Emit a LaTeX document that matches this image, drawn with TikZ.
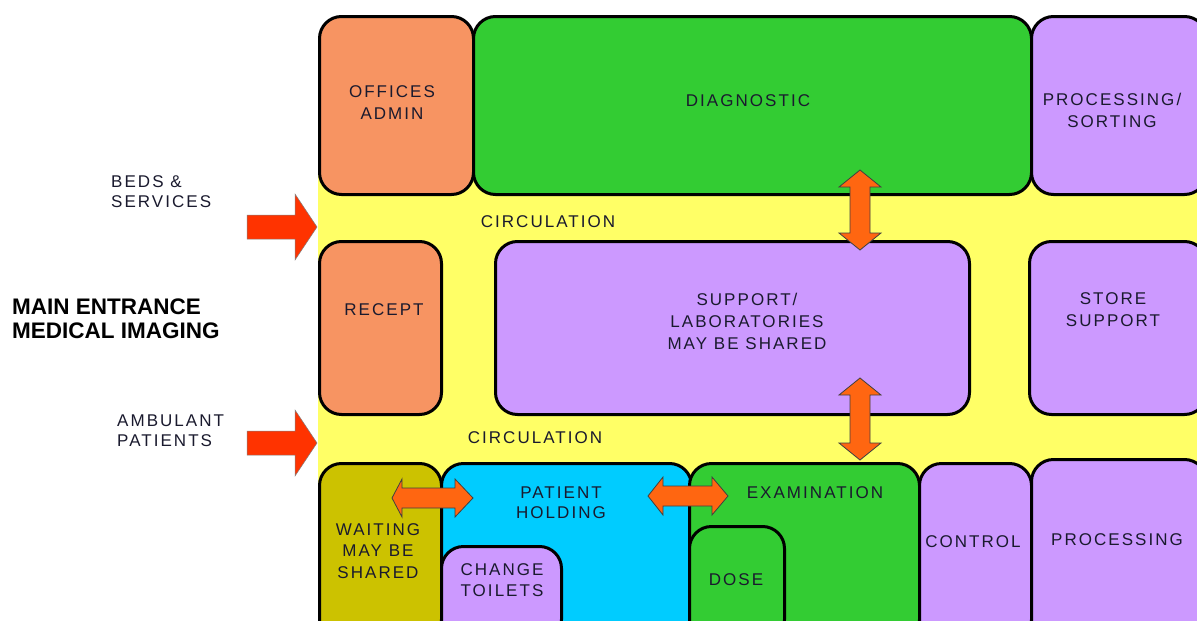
\documentclass[tikz,border=0pt]{standalone}
\usepackage{fontspec}
\setmainfont{Liberation Sans}
\newfontfamily\lbl[LetterSpace=12]{Liberation Sans}
\definecolor{salmon}{HTML}{F79462}
\definecolor{grn}{HTML}{33CC33}
\definecolor{purp}{HTML}{CC99FF}
\definecolor{cyanb}{HTML}{00CCFF}
\definecolor{olive}{HTML}{CCC200}
\definecolor{yel}{HTML}{FFFF66}
\definecolor{redarr}{HTML}{FF3300}
\definecolor{orarr}{HTML}{FF6611}
\definecolor{ink}{HTML}{1A1A2E}
\tikzset{
  box/.style={draw=black, line width=3pt, rounded corners=22pt, inner sep=0pt},
  txt/.style={font=\lbl\fontsize{17}{22}\selectfont, text=ink, align=center, inner sep=0pt},
  ltxt/.style={font=\lbl\fontsize{17}{20}\selectfont, text=ink, align=left, inner sep=0pt, anchor=west},
  btxt/.style={font=\bfseries\fontsize{22.5}{24}\selectfont, text=black, align=left, inner sep=0pt, anchor=west},
  arr/.style={draw=black!75, line width=0.8pt, line join=miter},
}
% \zone{name}{x1}{y1}{x2}{y2}{colour}
\newcommand{\zone}[6]{\node[box, fill=#6, anchor=north west, minimum width={(#4-#2)*1pt}, minimum height={(#5-#3)*1pt}] (#1) at (#2,#3) {};}
% \harr{xl}{xr}{yc}{shaft half}{head half}{left head len}{right head len}
\newcommand{\harr}[7]{\filldraw[arr, fill=orarr] (#1,#3) -- ({#1+#6},{#3-#5}) -- ({#1+#6},{#3-#4}) -- ({#2-#7},{#3-#4}) -- ({#2-#7},{#3-#5}) -- (#2,#3) -- ({#2-#7},{#3+#5}) -- ({#2-#7},{#3+#4}) -- ({#1+#6},{#3+#4}) -- ({#1+#6},{#3+#5}) -- cycle;}
% \varr{xc}{yt}{yb}{shaft half}{head half}{head len}
\newcommand{\varr}[6]{\filldraw[arr, fill=orarr] (#1,#2) -- ({#1+#5},{#2+#6}) -- ({#1+#4},{#2+#6}) -- ({#1+#4},{#3-#6}) -- ({#1+#5},{#3-#6}) -- (#1,#3) -- ({#1-#5},{#3-#6}) -- ({#1-#4},{#3-#6}) -- ({#1-#4},{#2+#6}) -- ({#1-#5},{#2+#6}) -- cycle;}
% \inarr{yc}
\newcommand{\inarr}[1]{\filldraw[arr, fill=redarr, draw=black!50, line width=0.5pt] (247,{#1-12}) -- (295,{#1-12}) -- (295,{#1-33}) -- (317,#1) -- (295,{#1+33}) -- (295,{#1+12}) -- (247,{#1+12}) -- cycle;}
\begin{document}
\begin{tikzpicture}[x=1pt,y=-1pt]
\useasboundingbox (0,0) rectangle (1197,621);
\clip (0,0) rectangle (1197,621);
\fill[white] (0,0) rectangle (1197,621);
\fill[yel] (318,60) rectangle (1197,621);
% top row
\zone{offices}{318}{15}{472}{193}{salmon}
\zone{diag}{472}{15}{1030}{193}{grn}
\zone{procsort}{1030}{15}{1205}{193}{purp}
% middle row
\zone{recept}{318}{240}{440}{413}{salmon}
\zone{support}{494}{240}{968}{413}{purp}
\zone{store}{1028}{240}{1205}{413}{purp}
% bottom row
\zone{waiting}{318}{462}{440}{640}{olive}
\zone{holding}{440}{462}{690}{640}{cyanb}
\zone{change}{440}{545}{560}{640}{purp}
\zone{exam}{688}{462}{918}{640}{grn}
\zone{dose}{688}{525}{783}{640}{grn}
\zone{control}{918}{462}{1030}{640}{purp}
\zone{proc}{1030}{458}{1205}{640}{purp}
% texts
\node[txt] (tOff) at (392,103) {OFFICES\\ADMIN};
\node[txt] (tDiag) at (748,101) {DIAGNOSTIC};
\node[txt] (tPS) at (1112,110) {PROCESSING/\\SORTING};
\node[txt] (tCirc1) at (548,222) {CIRCULATION};
\node[txt] (tRec) at (384,310) {RECEPT};
\node[txt] (tSup) at (747,321) {SUPPORT/\\LABORATORIES\\MAY BE SHARED};
\node[txt] (tStore) at (1113,310) {STORE\\SUPPORT};
\node[txt] (tCirc2) at (535,438) {CIRCULATION};
\node[txt, font=\lbl\fontsize{17}{20}\selectfont] (tHold) at (561,503) {PATIENT\\HOLDING};
\node[txt, font=\lbl\fontsize{17}{21.5}\selectfont] (tWait) at (378,551) {WAITING\\MAY BE\\SHARED};
\node[txt, font=\lbl\fontsize{17}{21}\selectfont] (tChg) at (502,580) {CHANGE\\TOILETS};
\node[txt] (tExam) at (815,493) {EXAMINATION};
\node[txt] (tDose) at (736,580) {DOSE};
\node[txt] (tCtrl) at (973,542) {CONTROL};
\node[txt] (tProc) at (1117,540) {PROCESSING};
% outside labels
\node[ltxt] (tBeds) at (111,192) {BEDS \&\\SERVICES};
\node[btxt] (tMain) at (12,319) {MAIN ENTRANCE\\MEDICAL IMAGING};
\node[ltxt] (tAmb) at (117,431) {AMBULANT\\PATIENTS};
% arrows
\inarr{227}
\inarr{443}
\varr{860}{170}{250}{10}{21}{17}
\varr{860}{378}{460}{10}{21}{17}
\harr{392}{473}{498}{10}{19}{10}{18}
\harr{648}{728}{496}{10}{19}{15}{16}
\end{tikzpicture}
\end{document}
